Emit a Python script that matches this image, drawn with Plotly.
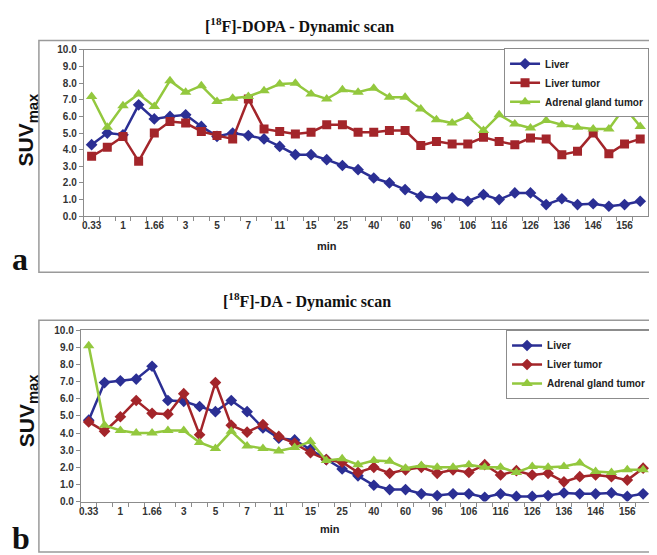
import plotly.graph_objects as go

# ---------------- data ----------------
categories = ["0.33", "0.66", "1", "1.33", "1.66", "2", "3", "4", "5", "6", "7", "9",
              "11", "13", "15", "20", "25", "30", "40", "50", "60", "80", "96", "101",
              "106", "111", "116", "121", "126", "131", "136", "141", "146", "151", "156", "161"]
tick_labels = [c if i % 2 == 0 else "" for i, c in enumerate(categories)]

series_names = ["Liver", "Liver tumor", "Adrenal gland tumor"]

dopa_liver = [4.3, 5.0, 4.9, 6.7, 5.85, 6.0, 6.1, 5.4, 4.8, 5.0, 4.85, 4.65, 4.2, 3.7, 3.7, 3.4,
              3.05, 2.8, 2.3, 2.0, 1.6, 1.2, 1.1, 1.1, 0.9, 1.3, 1.0, 1.4, 1.4, 0.7, 1.05, 0.7,
              0.75, 0.6, 0.7, 0.9]
dopa_liver_tumor = [3.6, 4.15, 4.8, 3.3, 5.0, 5.7, 5.6, 5.1, 4.85, 4.65, 7.05, 5.25, 5.1, 4.95,
                    5.05, 5.5, 5.5, 5.05, 5.05, 5.15, 5.15, 4.25, 4.5, 4.35, 4.35, 4.75, 4.5,
                    4.3, 4.7, 4.65, 3.7, 3.9, 5.0, 3.75, 4.35, 4.65]
dopa_adrenal = [7.2, 5.35, 6.65, 7.35, 6.6, 8.15, 7.45, 7.85, 6.9, 7.1, 7.2, 7.55, 7.95, 8.0,
                7.35, 7.05, 7.6, 7.45, 7.7, 7.15, 7.15, 6.45, 5.8, 5.6, 6.0, 5.15, 6.1, 5.55,
                5.3, 5.75, 5.5, 5.35, 5.25, 5.25, 6.55, 5.4]

da_liver = [4.75, 6.95, 7.05, 7.15, 7.9, 5.9, 5.85, 5.55, 5.25, 5.9, 5.25, 4.3, 3.7, 3.6, 3.05,
            2.45, 1.9, 1.5, 0.95, 0.7, 0.7, 0.45, 0.35, 0.45, 0.45, 0.25, 0.45, 0.3, 0.3,
            0.35, 0.5, 0.45, 0.45, 0.5, 0.3, 0.45]
da_liver_tumor = [4.65, 4.1, 4.95, 5.9, 5.15, 5.1, 6.3, 3.9, 6.95, 4.45, 4.05, 4.5, 3.8, 3.4,
                  2.85, 2.45, 2.3, 1.7, 2.0, 1.65, 1.85, 2.0, 1.65, 1.85, 1.7, 2.15, 1.55,
                  1.8, 1.55, 1.65, 1.15, 1.45, 1.55, 1.45, 1.25, 1.95]
da_adrenal = [9.1, 4.45, 4.15, 4.0, 4.0, 4.15, 4.15, 3.45, 3.1, 4.1, 3.25, 3.1, 2.95, 3.15,
              3.5, 2.4, 2.5, 2.15, 2.4, 2.35, 1.95, 2.1, 2.0, 2.0, 2.15, 2.0, 2.0, 1.7, 2.05,
              2.0, 2.05, 2.25, 1.75, 1.7, 1.85, 1.85]

title_top = "[<sup>18</sup>F]-DOPA - Dynamic scan"
title_bottom = "[<sup>18</sup>F]-DA - Dynamic scan"

# ---------------- styling ----------------
W, H = 657, 555
BLUE = "#2B2F94"
RED = "#A3252A"
GREEN = "#93C83E"
GRAY = "#8C8C8C"
SANS = "Liberation Sans, Arial, sans-serif"
SERIF = "Liberation Serif, Times New Roman, serif"


def px(x):
    return x / W


def py(y):
    return 1 - y / H


fig = go.Figure()

top_series = [(dopa_liver, BLUE, "diamond", 9), (dopa_liver_tumor, RED, "square", 9),
              (dopa_adrenal, GREEN, "triangle-up", 10)]
bot_series = [(da_liver, BLUE, "diamond", 9), (da_liver_tumor, RED, "diamond", 9),
              (da_adrenal, GREEN, "triangle-up", 10)]

for name, (vals, col, sym, sz) in zip(series_names, top_series):
    fig.add_trace(go.Scatter(x=categories, y=vals, name=name, mode="lines+markers",
                             line=dict(color=col, width=2.5),
                             marker=dict(symbol=sym, size=sz, color=col),
                             xaxis="x", yaxis="y", legend="legend"))
for name, (vals, col, sym, sz) in zip(series_names, bot_series):
    fig.add_trace(go.Scatter(x=categories, y=vals, name=name, mode="lines+markers",
                             line=dict(color=col, width=2.5),
                             marker=dict(symbol=sym, size=sz, color=col),
                             xaxis="x2", yaxis="y2", legend="legend2"))

tickfont = dict(family=SANS, size=10, color="#333333", weight="bold")


def xax(domain, anchor):
    return dict(domain=domain, anchor=anchor, type="category", categoryorder="array",
                categoryarray=categories, range=[-0.5, 35.5], tickvals=categories,
                ticktext=tick_labels, tickson="boundaries", ticks="outside", ticklen=4,
                tickcolor=GRAY, showline=True, linecolor=GRAY, linewidth=1, mirror=True,
                showgrid=False, zeroline=False, tickfont=tickfont, tickangle=0)


def yax(domain, anchor):
    return dict(domain=domain, anchor=anchor, range=[0, 10], dtick=1, tickformat=".1f",
                ticks="outside", ticklen=4, tickcolor=GRAY, showline=True, linecolor=GRAY,
                linewidth=1, mirror=True, showgrid=False, zeroline=False, tickfont=tickfont)


legend_style = dict(font=dict(family=SANS, size=10, color="#222222", weight="bold"),
                    bordercolor=GRAY, borderwidth=1, bgcolor="white",
                    xanchor="right", yanchor="top", tracegroupgap=0, itemwidth=30)

fig.update_layout(
    width=W, height=H, margin=dict(l=0, r=0, t=0, b=0),
    paper_bgcolor="white", plot_bgcolor="white",
    xaxis=xax([px(74), px(640)], "y"),
    yaxis=yax([py(206.7), py(36.7)], "x"),
    xaxis2=xax([px(71), px(643)], "y2"),
    yaxis2=yax([py(498.3), py(323.3)], "x2"),
    legend=dict(x=px(641), y=py(35), **legend_style),
    legend2=dict(x=px(643), y=py(323), **legend_style),
    showlegend=True,
)

# outer frames
fig.add_shape(type="rect", xref="paper", yref="paper", x0=px(29), x1=px(651), y0=py(264),
              y1=py(27), line=dict(color="#9A9A9A", width=1.5), layer="below")
fig.add_shape(type="rect", xref="paper", yref="paper", x0=px(29), x1=px(654), y0=py(550),
              y1=py(313), line=dict(color="#9A9A9A", width=1.5), layer="below")

ann = []
ann.append(dict(text="<b>" + title_top + "</b>", x=px(290), y=py(12), xanchor="center",
                yanchor="middle", font=dict(family=SERIF, size=16, color="#111111")))
ann.append(dict(text="<b>" + title_bottom + "</b>", x=px(298), y=py(293), xanchor="center",
                yanchor="middle", font=dict(family=SERIF, size=16, color="#111111")))
for yc in (118, 405):
    ann.append(dict(text="<b>SUV<sub>max</sub></b>", x=px(18), y=py(yc), xanchor="center",
                    yanchor="middle", textangle=-90,
                    font=dict(family=SANS, size=21, color="#111111")))
ann.append(dict(text="<b>min</b>", x=px(318), y=py(237), xanchor="center", yanchor="middle",
                font=dict(family=SANS, size=11, color="#222222")))
ann.append(dict(text="<b>min</b>", x=px(321), y=py(526), xanchor="center", yanchor="middle",
                font=dict(family=SANS, size=11, color="#222222")))
ann.append(dict(text="<b>a</b>", x=px(10), y=py(250), xanchor="center", yanchor="middle",
                font=dict(family=SERIF, size=32, color="#111111")))
ann.append(dict(text="<b>b</b>", x=px(11), y=py(536), xanchor="center", yanchor="middle",
                font=dict(family=SERIF, size=32, color="#111111")))
for a in ann:
    a.update(xref="paper", yref="paper", showarrow=False)
fig.update_layout(annotations=ann)

fig.write_html("out.html")
